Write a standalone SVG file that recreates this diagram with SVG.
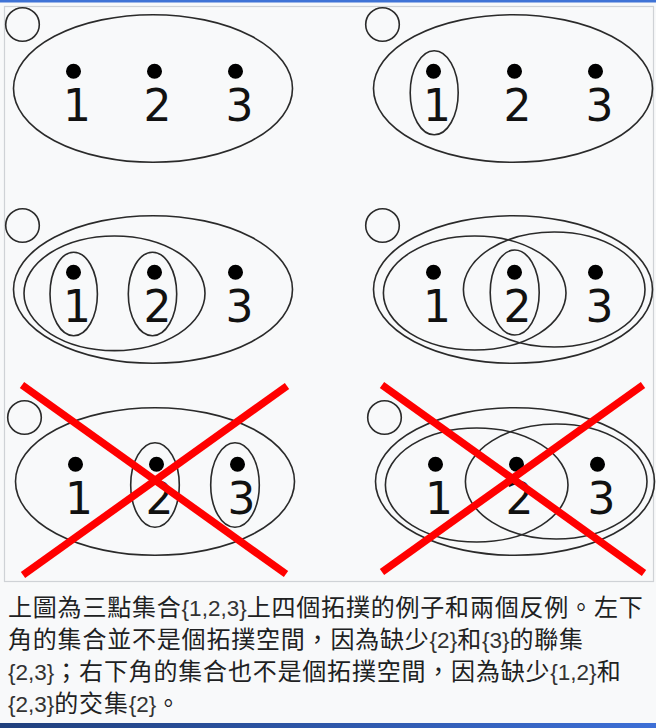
<svg xmlns="http://www.w3.org/2000/svg" width="656" height="728" viewBox="0 0 656 728">
  <defs>
    <style>
      .set { fill: none; stroke: #2a2a2a; stroke-width: 1.6; }
      .pt { fill: #000; }
      .num { font-family: "DejaVu Sans", sans-serif; font-size: 44px; fill: #111; text-anchor: middle; }
      .cross { stroke: #ff0000; stroke-width: 7.5; stroke-linecap: butt; }
      .cap { font-size: 24px; fill: #202122; }
      .cjk { font-family: "Noto Sans CJK TC", "Noto Sans CJK SC", sans-serif; font-size: 24px; letter-spacing: 0.8px; }
      .lat { font-family: "Liberation Sans", Arial, sans-serif; font-size: 22.5px; letter-spacing: 0px; fill: #333; }
    </style>
    <linearGradient id="bottomBar" x1="0" y1="0" x2="1" y2="0">
      <stop offset="0" stop-color="#1f3f7c"/>
      <stop offset="1" stop-color="#3d6fd6"/>
    </linearGradient>
    <g id="base">
      <circle class="set" cx="22.5" cy="24.5" r="16.8"/>
      <ellipse class="set" cx="153" cy="88.5" rx="139.5" ry="73.8"/>
      <circle class="pt" cx="73.5" cy="71.3" r="7.5"/>
      <circle class="pt" cx="154.5" cy="71.3" r="7.5"/>
      <circle class="pt" cx="235.5" cy="71.3" r="7.5"/>
      <text class="num" x="77" y="120.5">1</text>
      <text class="num" x="157.5" y="120.5">2</text>
      <text class="num" x="239.5" y="120.5">3</text>
    </g>
  </defs>

  <rect x="0" y="0" width="656" height="728" fill="#f8f9fa"/>
  <rect x="0" y="0" width="656" height="2.5" fill="#3f73d6"/>
  <rect x="4.5" y="6.5" width="649" height="575" fill="#f8f9fa" stroke="#cfd2d6" stroke-width="1.2"/>

  <g id="panel-1" transform="translate(0,0)">
    <use href="#base"/>
  </g>

  <g id="panel-2" transform="translate(360,0)">
    <use href="#base"/>
    <ellipse class="set" cx="74.2" cy="92.8" rx="24" ry="42"/>
  </g>

  <g id="panel-3" transform="translate(0,201)">
    <use href="#base"/>
    <ellipse class="set" cx="114.5" cy="92.3" rx="90.5" ry="57.3"/>
    <ellipse class="set" cx="73.7" cy="93" rx="23.7" ry="41.7"/>
    <ellipse class="set" cx="152.5" cy="93" rx="24.2" ry="41.7"/>
  </g>

  <g id="panel-4" transform="translate(360,201)">
    <use href="#base"/>
    <ellipse class="set" cx="114.7" cy="92" rx="91.3" ry="57"/>
    <ellipse class="set" cx="194.2" cy="88.5" rx="90.8" ry="57.5"/>
    <ellipse class="set" cx="154.7" cy="91.5" rx="24.5" ry="42.5"/>
  </g>

  <g id="panel-5" transform="translate(2,393)">
    <use href="#base"/>
    <ellipse class="set" cx="153" cy="92" rx="24.3" ry="42.3"/>
    <ellipse class="set" cx="233" cy="92" rx="24.3" ry="42.3"/>
  </g>

  <g id="panel-6" transform="translate(362,393)">
    <use href="#base"/>
    <ellipse class="set" cx="114.7" cy="92" rx="91.3" ry="57"/>
    <ellipse class="set" cx="194.2" cy="88.5" rx="90.8" ry="57.5"/>
  </g>

  <g id="connectors">
    <line class="cross" x1="22" y1="385" x2="286" y2="574"/>
    <line class="cross" x1="287" y1="386" x2="23" y2="575"/>
    <line class="cross" x1="382" y1="385" x2="644" y2="573"/>
    <line class="cross" x1="643" y1="385" x2="382" y2="572"/>
  </g>

  <g id="caption" class="cap">
    <text y="616"><tspan x="8" class="cjk">上圖為三點集合</tspan><tspan class="lat">{1,2,3}</tspan><tspan class="cjk">上四個拓撲的例子和兩個反例。左下</tspan></text>
    <text y="648"><tspan x="8" class="cjk">角的集合並不是個拓撲空間，因為缺少</tspan><tspan class="lat">{2}</tspan><tspan class="cjk">和</tspan><tspan class="lat">{3}</tspan><tspan class="cjk">的聯集</tspan></text>
    <text y="680"><tspan x="8" class="lat">{2,3}</tspan><tspan class="cjk">；右下角的集合也不是個拓撲空間，因為缺少</tspan><tspan class="lat">{1,2}</tspan><tspan class="cjk">和</tspan></text>
    <text y="712"><tspan x="8" class="lat">{2,3}</tspan><tspan class="cjk">的交集</tspan><tspan class="lat">{2}</tspan><tspan class="cjk">。</tspan></text>
  </g>

  <rect x="0" y="723" width="656" height="5" fill="url(#bottomBar)"/>
</svg>
